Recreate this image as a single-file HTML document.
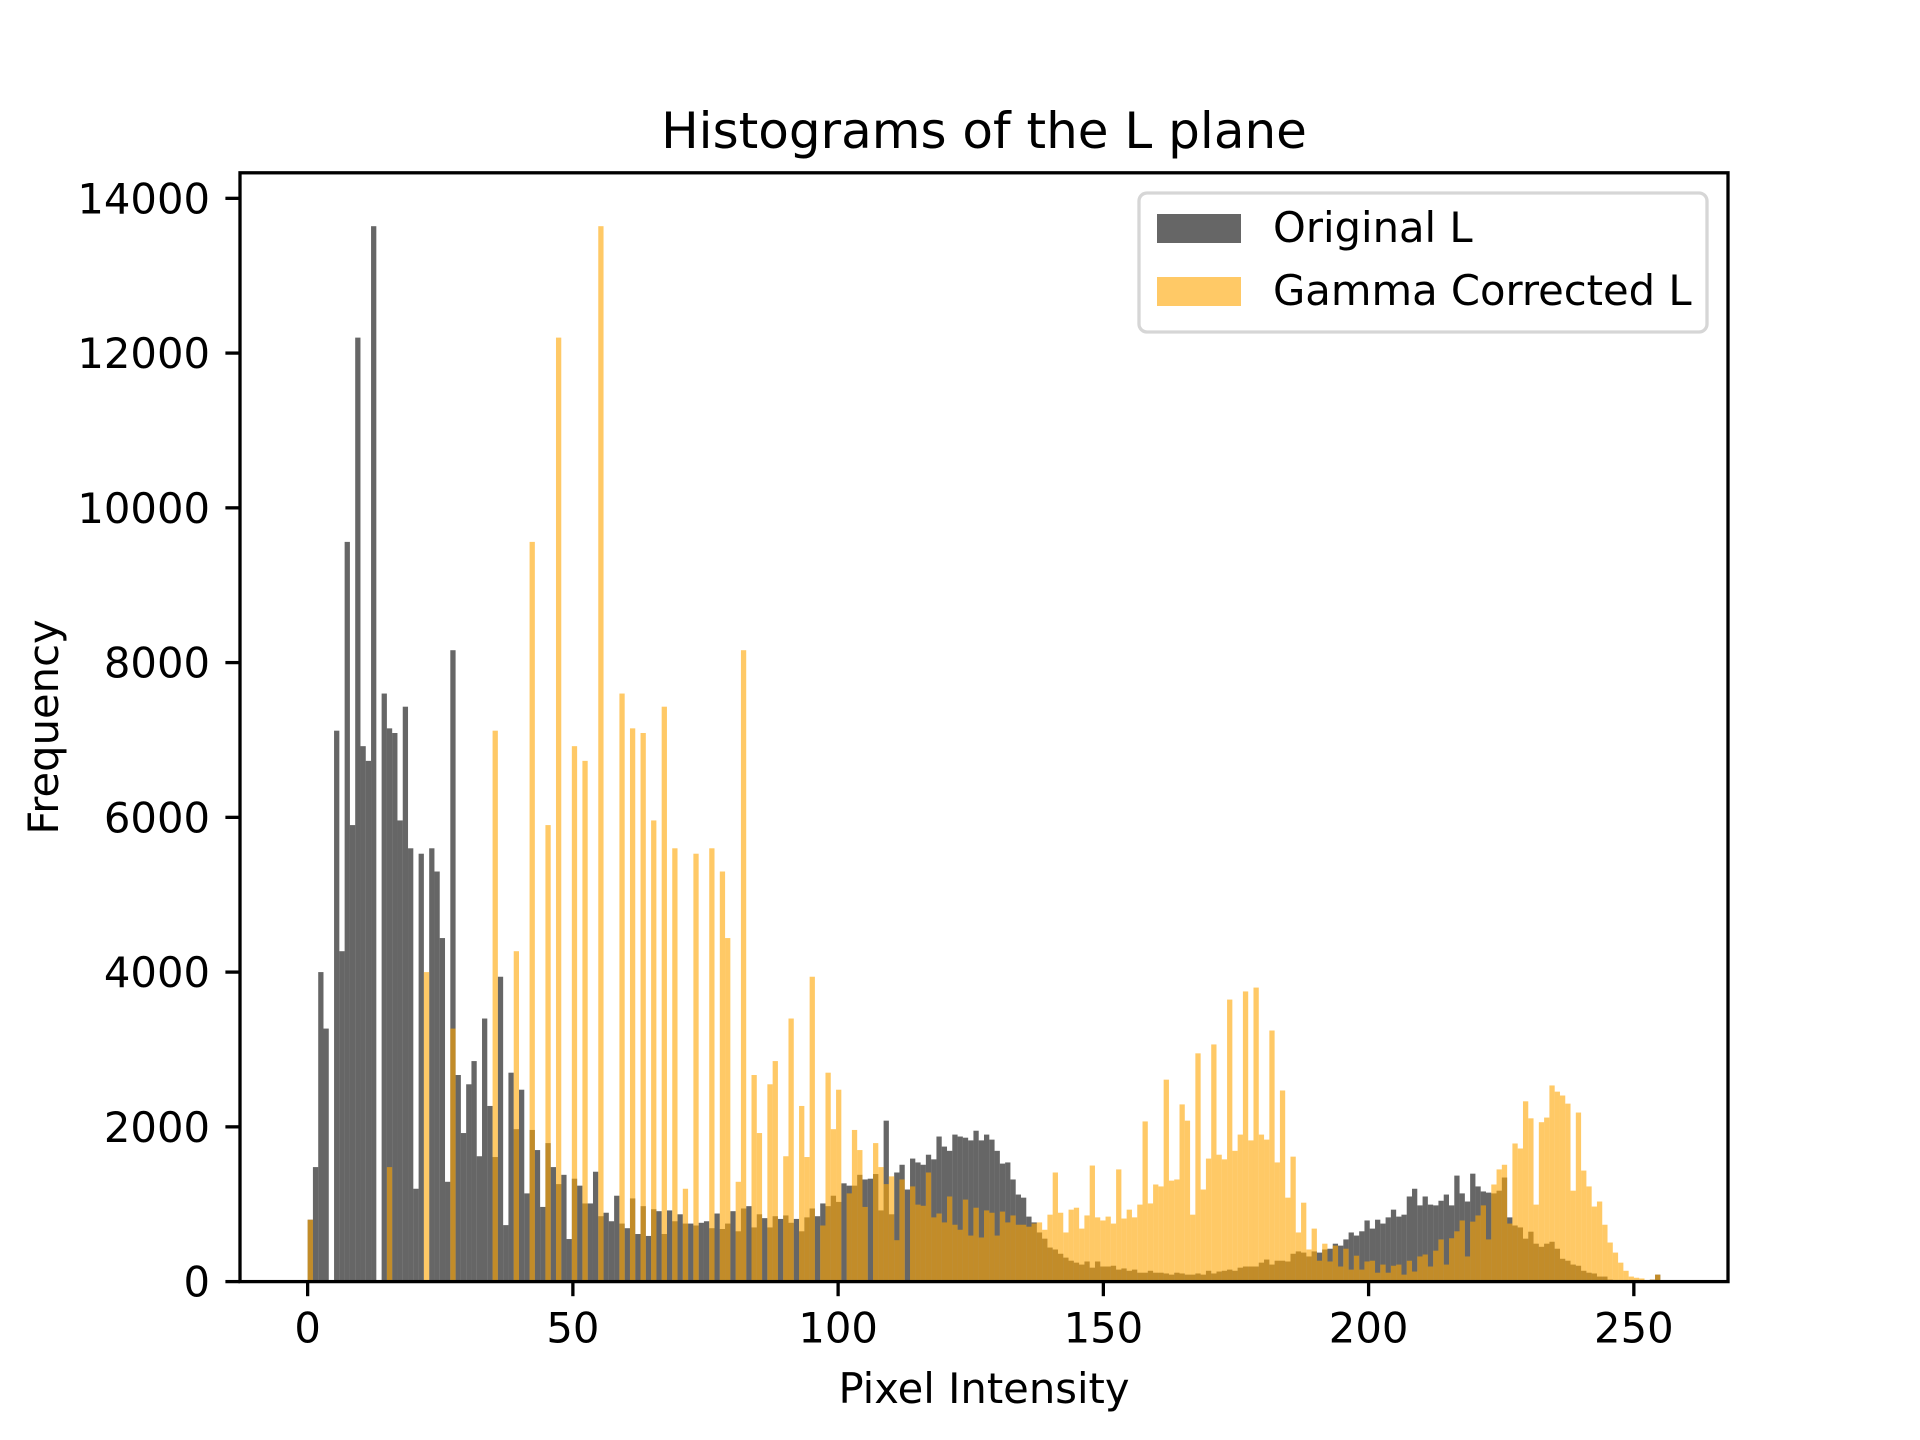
<!DOCTYPE html>
<html><head><meta charset="utf-8"><title>Histograms of the L plane</title>
<style>html,body{margin:0;padding:0;background:#fff}svg{display:block}text{font-family:"DejaVu Sans","Liberation Sans",sans-serif}</style>
</head><body>
<svg id="chart" xmlns="http://www.w3.org/2000/svg" width="1920" height="1440" viewBox="0 0 1920 1440">
<rect x="0" y="0" width="1920" height="1440" fill="#fff"/>
<g id="bars-original"></g>
<g id="bars-gamma"></g>
<g id="xticks"></g>
<g id="yticks"></g>
<rect x="240" y="172.8" width="1488" height="1108.8" fill="none" stroke="#000" stroke-width="3.3"/>
<text x="984" y="148" font-size="50" text-anchor="middle">Histograms of the L plane</text>
<text x="984" y="1403" font-size="41.7" text-anchor="middle">Pixel Intensity</text>
<text x="58" y="727" font-size="41.7" text-anchor="middle" transform="rotate(-90 58 727)">Frequency</text>
<g>
<rect x="1139" y="193" width="568" height="139" rx="8" fill="#fff" fill-opacity="0.8" stroke="#d6d6d6" stroke-width="3.3"/>
<g>
<rect x="1157" y="214" width="84" height="29" fill="#000" fill-opacity="0.6"/>
<text x="1273" y="242" font-size="41.7">Original L</text>
</g>
<g>
<rect x="1157" y="277" width="84" height="29" fill="#ffa500" fill-opacity="0.6"/>
<text x="1273" y="305" font-size="41.7">Gamma Corrected L</text>
</g>
</g>
</svg>
<script>
const originalCounts = [
800,1480,4000,3270,0,7120,4270,9560,5900,12200,6920,6730,13640,0,7600,7150,
7090,5960,7430,5600,1200,5530,0,5600,5300,4440,1290,8160,2670,1920,2550,2850,
1620,3400,2270,1610,3940,730,2700,1970,2480,1140,1960,1700,965,1790,1480,1260,
1380,550,1330,1240,1010,1010,1420,845,890,780,1110,750,690,1075,615,975,
590,935,910,615,920,780,870,750,750,725,760,780,690,880,680,750,
910,650,945,975,700,870,820,700,845,810,855,760,810,650,830,945,
845,1010,975,1110,1030,1270,1240,1240,1380,1320,1330,1390,920,2080,870,1410,
1510,1190,1590,1540,1510,1640,1580,1875,1745,1690,1900,1875,1860,1825,1950,1825,
1900,1835,1690,1525,1540,1320,1125,1085,840,765,635,555,440,415,360,310,
270,245,220,260,180,260,195,195,205,155,170,140,155,115,115,140,
115,115,105,90,115,105,90,90,105,90,140,105,130,140,155,140,
180,195,195,195,245,285,220,270,270,260,360,390,375,325,390,375,
415,425,490,465,545,635,595,650,790,685,800,750,830,930,840,865,
1100,1200,985,1100,995,985,1045,1125,985,1370,1140,1035,1395,1230,1165,1150,
1140,1175,1345,830,725,700,555,645,490,450,490,515,425,295,270,220,
205,140,115,105,65,65,25,15,15,0,15,0,0,0,25,90];
const gammaCounts = [
800,0,0,0,0,0,0,0,0,0,0,0,0,0,0,1480,
0,0,0,0,0,0,4000,0,0,0,0,3270,0,0,0,0,
0,0,0,7120,0,0,0,4270,0,0,9560,0,0,5900,0,12200,
0,0,6920,0,6730,0,0,13640,0,0,0,7600,0,7150,0,7090,
0,5960,0,7430,0,5600,0,1200,0,5530,0,0,5600,0,5300,4440,
0,1290,8160,0,2670,1920,0,2550,2850,0,1620,3400,0,2270,1610,3940,
0,725,2700,1970,2480,0,1140,1960,1700,965,0,1790,1480,1260,1360,535,
1320,0,1230,995,980,1410,830,880,765,1100,735,670,1060,595,955,570,
920,890,595,905,765,855,735,735,710,750,765,670,865,1410,890,635,
930,955,685,855,1500,830,790,840,750,1450,815,930,830,995,2070,1010,
1255,1230,2610,1305,1320,2290,2080,865,2950,1190,1590,3065,1640,1580,3645,1690,
1900,3750,1825,3800,1900,1835,3245,1540,2470,1085,1615,635,1020,415,685,270,
490,260,465,195,425,155,335,155,260,270,115,220,115,205,220,90,
270,130,325,350,195,400,545,220,560,650,790,325,775,855,985,545,
1255,1450,1510,750,1785,1720,2330,2110,995,2060,2120,2535,2455,2405,2300,1175,
2185,1435,1230,970,1035,735,505,375,245,140,65,50,40,15,25,90];
const xTickValues = [0,50,100,150,200,250];
const yTickValues = [0,2000,4000,6000,8000,10000,12000,14000];

const NS = 'http://www.w3.org/2000/svg';
const AX = {l:240, r:1728, t:172.8, b:1281.6};
const XMIN = -12.75, XMAX = 267.75, YMAX = 14330;
function xs(v){ return AX.l + (v - XMIN) / (XMAX - XMIN) * (AX.r - AX.l); }
function ys(v){ return AX.b - v / YMAX * (AX.b - AX.t); }
const binW = 255 / 256;

function drawBars(groupId, counts, color, name){
  const g = document.getElementById(groupId);
  counts.forEach(function(c, i){
    if (c <= 0) return;
    const r = document.createElementNS(NS, 'rect');
    const x0 = xs(i * binW), x1 = xs((i + 1) * binW);
    r.setAttribute('x', x0);
    r.setAttribute('width', x1 - x0);
    r.setAttribute('y', ys(c));
    r.setAttribute('height', ys(0) - ys(c));
    r.setAttribute('fill', color);
    r.setAttribute('fill-opacity', '0.6');
    
    
    g.appendChild(r);
  });
}
drawBars('bars-original', originalCounts, '#000000', 'original-l-bar');
drawBars('bars-gamma', gammaCounts, '#ffa500', 'gamma-l-bar');

const xg = document.getElementById('xticks');
xTickValues.forEach(function(v){
  const x = xs(v);
  const ln = document.createElementNS(NS, 'line');
  ln.setAttribute('x1', x); ln.setAttribute('x2', x);
  ln.setAttribute('y1', AX.b); ln.setAttribute('y2', AX.b + 14.6);
  ln.setAttribute('stroke', '#000'); ln.setAttribute('stroke-width', '3.3');
  
  
  xg.appendChild(ln);
  const t = document.createElementNS(NS, 'text');
  t.setAttribute('x', x); t.setAttribute('y', AX.b + 61);
  t.setAttribute('font-size', '41.7'); t.setAttribute('text-anchor', 'middle');
  
  
  t.textContent = String(v);
  xg.appendChild(t);
});
const yg = document.getElementById('yticks');
yTickValues.forEach(function(v){
  const y = ys(v);
  const ln = document.createElementNS(NS, 'line');
  ln.setAttribute('x1', AX.l - 14.6); ln.setAttribute('x2', AX.l);
  ln.setAttribute('y1', y); ln.setAttribute('y2', y);
  ln.setAttribute('stroke', '#000'); ln.setAttribute('stroke-width', '3.3');
  
  
  yg.appendChild(ln);
  const t = document.createElementNS(NS, 'text');
  t.setAttribute('x', AX.l - 30); t.setAttribute('y', y + 15);
  t.setAttribute('font-size', '41.7'); t.setAttribute('text-anchor', 'end');
  
  
  t.textContent = String(v);
  yg.appendChild(t);
});
</script>
</body></html>
